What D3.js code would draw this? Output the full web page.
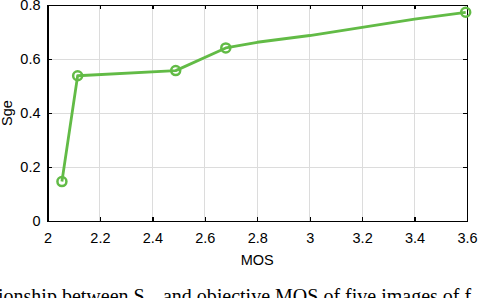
<!DOCTYPE html>
<meta charset="utf-8">
<style>
 body { margin: 0; background: #fff; }
 svg { font-family: "Liberation Sans", Arial, sans-serif; background: #fff; }
 .grid line { stroke: #dcdcdc; stroke-width: 1px; shape-rendering: crispEdges; }
 .axis path, .axis line { fill: none; stroke: #000; stroke-width: 1.3px; shape-rendering: crispEdges; }
 .axis text { font-family: "Liberation Sans", Arial, sans-serif; font-size: 14.5px; fill: #000; }
</style>
<body>
<svg width="486" height="298"></svg>
<script src="https://cdn.jsdelivr.net/npm/d3@7"></script>
<script>

 // line vertices (MOS, Sge) and which of them carry a circle marker
 var mos    = [2.055, 2.115, 2.489, 2.680, 2.8,   3.0,   3.4,   3.595];
 var sge    = [0.146, 0.538, 0.557, 0.641, 0.662, 0.687, 0.748, 0.773];
 var marked = [true,  true,  true,  true,  false, false, false, true];

 var xTicks = [2, 2.2, 2.4, 2.6, 2.8, 3, 3.2, 3.4, 3.6];
 var yTicks = [0, 0.2, 0.4, 0.6, 0.8];

 var svg = d3.select("svg"),
     margin = {top: 5, right: 19, bottom: 77, left: 47.5},
     width = +svg.attr("width") - margin.left - margin.right,
     height = +svg.attr("height") - margin.top - margin.bottom,
     g = svg.append("g").attr("transform", "translate(" + margin.left + "," + margin.top + ")");

 var x = d3.scaleLinear().domain([2, 3.6]).range([0, width]);
 var y = d3.scaleLinear().domain([0, 0.8]).range([height, 0]);

 // grid
 var grid = g.append("g").attr("class", "grid");
 grid.selectAll(".gx").data(xTicks.slice(1, -1)).enter().append("line")
     .attr("x1", function(d) { return x(d); }).attr("x2", function(d) { return x(d); })
     .attr("y1", 0).attr("y2", height);
 grid.selectAll(".gy").data(yTicks.slice(1, -1)).enter().append("line")
     .attr("x1", 0).attr("x2", width)
     .attr("y1", function(d) { return y(d); }).attr("y2", function(d) { return y(d); });

 // axes (ticks point inward)
 g.append("g").attr("class", "axis")
  .attr("transform", "translate(0," + height + ")")
  .call(d3.axisBottom(x).tickValues(xTicks).tickSize(-4).tickPadding(12).tickSizeOuter(0).tickFormat(d3.format("")));
 g.append("g").attr("class", "axis")
  .call(d3.axisLeft(y).tickValues(yTicks).tickSize(-4).tickPadding(7).tickSizeOuter(0).tickFormat(d3.format("")));
 g.append("g").attr("class", "axis")
  .call(d3.axisTop(x).tickValues(xTicks).tickSize(-4).tickSizeOuter(0).tickFormat(""));
 g.append("g").attr("class", "axis")
  .attr("transform", "translate(" + width + ",0)")
  .call(d3.axisRight(y).tickValues(yTicks).tickSize(-4).tickSizeOuter(0).tickFormat(""));

 // series
 var pts = mos.map(function(m, i) { return {x: m, y: sge[i], mark: marked[i]}; });
 var line = d3.line().x(function(d) { return x(d.x); }).y(function(d) { return y(d.y); });
 g.append("path").datum(pts)
  .attr("d", line)
  .attr("fill", "none")
  .attr("stroke", "#62bb46")
  .attr("stroke-width", 2.8)
  .attr("stroke-linejoin", "round");
 g.selectAll(".dot").data(pts.filter(function(d) { return d.mark; })).enter().append("circle")
  .attr("cx", function(d) { return x(d.x); })
  .attr("cy", function(d) { return y(d.y); })
  .attr("r", 4.5)
  .attr("fill", "none")
  .attr("stroke", "#62bb46")
  .attr("stroke-width", 2.5);

 // labels
 svg.append("text")
    .attr("x", margin.left + width / 2).attr("y", 265)
    .attr("text-anchor", "middle").style("font-size", "14.5px")
    .text("MOS");
 svg.append("text")
    .attr("transform", "translate(12," + (margin.top + height / 2) + ") rotate(-90)")
    .attr("text-anchor", "middle").style("font-size", "14.5px")
    .text("Sge");

 // caption cut at the bottom edge
 var cap = svg.append("text")
    .attr("x", -2).attr("y", 303)
    .style("font-family", "'Liberation Serif', 'Times New Roman', serif")
    .style("font-size", "20px");
 cap.append("tspan").text("ionship between S");
 cap.append("tspan").attr("dy", 4).style("font-size", "14px").text("ge");
 cap.append("tspan").attr("dy", -4).text(" and objective MOS of five images of f");

</script>
</body>
